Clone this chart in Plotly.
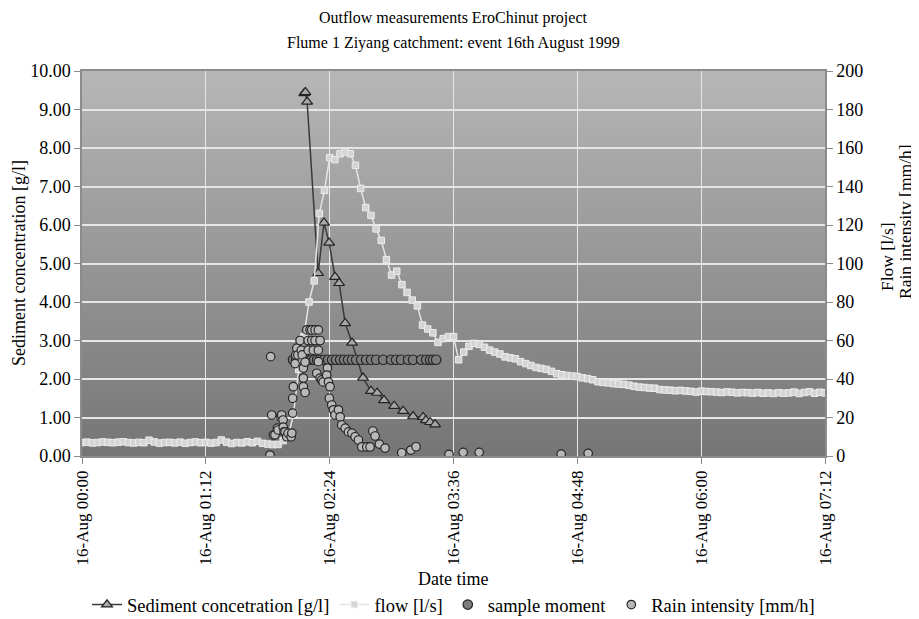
import plotly.graph_objects as go
import pandas as pd

BASE = pd.Timestamp("1999-08-16 00:00")

# ---------------- data (minutes after 00:00 on 16 Aug 1999) ----------------
flow_minutes = list(range(0, 433, 3))
flow_values = [
    7.0, 7.2, 6.8, 7.0, 7.3, 7.1, 6.9, 7.2, 7.4, 7.0, 6.8, 7.1, 6.9, 8.2, 7.3, 6.7,
    7.0, 7.1, 6.8, 7.2, 6.6, 7.0, 7.3, 6.9, 7.1, 6.7, 7.0, 8.3, 7.2, 6.5, 7.0, 6.8,
    7.4, 6.9, 7.6, 6.6, 6.2, 5.9, 6.0,
    8.0, 10.0, 22.0, 45.0, 62.0, 80.0, 91.0, 126.0, 138.0, 155.0, 154.0, 157.0,
    158.0, 157.0, 151.0, 139.0, 129.0, 125.0, 118.0, 112.0, 102.0, 94.0, 96.0,
    89.0, 85.0, 81.0, 78.0, 68.0, 66.0, 64.0, 59.0, 61.0, 62.0, 62.0, 50.0, 54.0,
    57.0, 58.5, 58.0, 56.5, 55.0, 54.0, 53.0, 51.5, 51.0, 50.5, 49.0, 48.0, 47.0,
    46.0, 45.5, 45.0, 44.0, 42.8, 42.2, 41.8, 41.5, 41.3, 40.6, 40.2, 39.6, 38.6,
    38.2, 38.0, 37.6, 37.4, 37.2, 36.8, 36.2, 35.8, 35.6, 35.3, 35.2, 34.5, 34.3,
    34.2, 33.9, 34.1, 33.8, 33.6, 33.2, 33.7, 33.5, 33.4, 33.2, 33.0, 33.3, 33.1,
    32.8, 33.0, 32.9, 32.7, 33.0, 32.6, 32.8, 32.5, 32.9, 32.6, 32.8, 33.2, 32.5,
    33.0, 33.4, 32.6, 33.1, 32.8, 32.5,
]

sed_minutes = [129.2, 129.9, 130.9, 137.3, 140.7, 143.7, 147.1, 149.5, 153.0, 157.0,
               163.4, 168.0, 171.6, 175.6, 181.5, 186.7, 192.5, 198.3, 200.0, 202.4, 205.3]
sed_values = [9.42, 9.45, 9.20, 4.75, 6.06, 5.54, 4.65, 4.49, 3.45, 2.94,
              2.03, 1.69, 1.64, 1.45, 1.30, 1.17, 1.03, 1.01, 0.93, 0.88, 0.82]

sample_minutes = [122.7, 124.5, 126.2, 128.0, 129.7, 131.4, 133.2, 134.9, 136.7, 138.4,
                  140.7, 143.1, 145.4, 147.7, 150.1, 152.4, 154.7, 157.0, 159.4, 162.3,
                  165.2, 168.1, 171.0, 175.1, 179.7, 182.6, 185.5, 189.6, 192.5, 197.2,
                  200.1, 202.4, 204.1, 205.9]
sample_values = [2.5] * len(sample_minutes)

rain_minutes = [109.3, 109.7, 110.3, 111.3, 112.2, 113.6, 114.0, 115.6, 116.1, 116.9,
                117.0, 117.5, 118.1, 119.0, 119.8, 121.6, 122.0, 122.5, 122.5, 122.9,
                123.9, 124.3, 124.9, 125.5, 126.8, 127.5, 128.0, 128.7, 128.7, 129.7,
                128.7, 129.7, 130.7, 131.5, 131.5, 132.6, 133.6, 133.6, 134.5, 135.5,
                135.5, 137.4, 138.4, 137.4, 137.4, 136.5, 138.4, 139.4, 140.2, 142.7,
                142.3, 143.3, 144.2, 143.8, 145.2, 146.2, 147.1, 149.1, 150.1, 151.0,
                153.0, 154.9, 156.9, 158.8, 160.7, 162.7, 165.6, 167.5, 169.1, 170.4,
                172.9, 176.2, 185.9, 191.2, 194.2, 213.4, 221.6, 230.9, 278.6, 294.3]
rain_values = [0.5, 51.6, 21.3, 10.9, 11.0, 14.5, 13.5, 20.4, 21.3, 18.7,
               15.0, 12.6, 12.5, 10.0, 11.9, 10.0, 11.9, 22.3, 30.0, 36.0,
               48.0, 52.5, 56.0, 52.5, 60.0, 55.0, 52.5, 40.5, 36.0, 33.0,
               45.7, 48.8, 65.5, 60.0, 55.0, 65.5, 65.5, 60.0, 55.0, 65.5,
               60.0, 65.5, 60.0, 55.0, 49.0, 43.0, 40.5, 39.5, 38.5, 45.7,
               42.0, 38.5, 36.0, 30.0, 26.5, 24.0, 21.3, 24.0, 20.3, 16.1,
               14.5, 12.5, 11.9, 10.0, 8.3, 4.7, 4.7, 4.7, 13.0, 10.4,
               6.2, 4.1, 1.7, 3.1, 4.8, 0.8, 1.9, 1.9, 1.0, 1.4]

tick_minutes = [0, 72, 144, 216, 288, 360, 432]
tick_labels = ["16-Aug 00:00", "16-Aug 01:12", "16-Aug 02:24", "16-Aug 03:36",
               "16-Aug 04:48", "16-Aug 06:00", "16-Aug 07:12"]


def to_time(mins):
    return [BASE + pd.Timedelta(minutes=m) for m in mins]


FONT = "Liberation Serif, Times New Roman, serif"

fig = go.Figure()

fig.add_trace(go.Scatter(
    x=to_time(flow_minutes), y=flow_values, name="flow [l/s]", yaxis="y2",
    mode="lines+markers", legendrank=2,
    line=dict(color="#e4e4e4", width=1.5),
    marker=dict(symbol="square", size=6.5, color="#d4d4d4",
                line=dict(color="#ececec", width=1)),
))
fig.add_trace(go.Scatter(
    x=to_time(sed_minutes), y=sed_values, name="Sediment concetration [g/l]",
    mode="lines+markers", legendrank=1,
    line=dict(color="#3a3a3a", width=1.5),
    marker=dict(symbol="triangle-up", size=9.5, color="#a8a8a8",
                line=dict(color="#222222", width=1.2)),
))
fig.add_trace(go.Scatter(
    x=to_time(sample_minutes), y=sample_values, name="sample moment",
    mode="markers", legendrank=3,
    marker=dict(symbol="circle", size=9.5, color="#7c7c7c",
                line=dict(color="#262626", width=1.2)),
))
fig.add_trace(go.Scatter(
    x=to_time(rain_minutes), y=rain_values, name="Rain intensity [mm/h]", yaxis="y2",
    mode="markers", legendrank=4,
    marker=dict(symbol="circle", size=8.5, color="#b8b8b8",
                line=dict(color="#262626", width=1.2)),
))

# vertical gradient background of the plot area (overlapping bands, no seams)
shapes = []
n = 60
top = (182, 182, 182)
bot = (118, 118, 118)
for i in range(n):
    f = i / (n - 1)
    c = tuple(int(round(top[k] + (bot[k] - top[k]) * f)) for k in range(3))
    shapes.append(dict(type="rect", xref="x domain", yref="y domain",
                       x0=0, x1=1, y0=max(0, 1 - (i + 1.6) / n), y1=1 - i / n,
                       fillcolor="rgb(%d,%d,%d)" % c, line=dict(width=0),
                       layer="below"))

# page has an 8px body margin: figure placed so the plot area sits at x 82-825, y 71-456
PW, PH = 743, 385


def px(x):
    return (x - 82) / PW


def py(y):
    return (456 - y) / PH


TXT = 18
common = dict(xref="paper", yref="paper", showarrow=False, xanchor="center", yanchor="middle")
annotations = [
    dict(text="Outflow measurements EroChinut project", x=px(453), y=py(18),
         font=dict(size=16), **common),
    dict(text="Flume 1 Ziyang catchment: event 16th August 1999", x=px(453), y=py(43),
         font=dict(size=16), **common),
    dict(text="Date time", x=px(453), y=py(579), font=dict(size=TXT), **common),
    dict(text="Sediment concentration [g/l]", x=px(19), y=py(263), textangle=-90,
         font=dict(size=TXT), **common),
    dict(text="Flow [l/s]", x=px(887), y=py(257), textangle=-90,
         font=dict(size=17.5), **common),
    dict(text="Rain intensity [mm/h]", x=px(905), y=py(222), textangle=-90,
         font=dict(size=17.5), **common),
]

fig.update_layout(
    width=911, height=611,
    margin=dict(l=74, r=94, t=63, b=163, autoexpand=False),
    paper_bgcolor="white", plot_bgcolor="#949494",
    font=dict(family=FONT, color="black", size=TXT),
    shapes=shapes, annotations=annotations,
    showlegend=True,
    legend=dict(orientation="h", x=0.5, xanchor="center", y=py(605),
                yanchor="middle", font=dict(size=18.5), bgcolor="rgba(0,0,0,0)",
                itemwidth=30, tracegroupgap=0),
    xaxis=dict(
        type="date", automargin=False,
        range=[BASE, BASE + pd.Timedelta(minutes=432)],
        tickvals=to_time(tick_minutes), ticktext=tick_labels, tickangle=-90,
        showgrid=True, gridcolor="#e6e6e6", gridwidth=1.2,
        showline=True, linecolor="#8c8c8c", linewidth=1.5, mirror=True,
        ticks="outside", ticklen=6, tickcolor="#8c8c8c",
        tickfont=dict(size=17), zeroline=False,
    ),
    yaxis=dict(
        range=[0, 10], dtick=1, tickformat=".2f", automargin=False,
        showgrid=True, gridcolor="#e6e6e6", gridwidth=1.5,
        showline=True, linecolor="#8c8c8c", linewidth=1.5,
        ticks="outside", ticklen=6, tickcolor="#8c8c8c",
        tickfont=dict(size=TXT), zeroline=False,
    ),
    yaxis2=dict(
        range=[0, 200], dtick=20, overlaying="y", side="right", automargin=False,
        showgrid=False, showline=True, linecolor="#8c8c8c", linewidth=1.5,
        ticks="outside", ticklen=6, tickcolor="#8c8c8c",
        tickfont=dict(size=TXT), zeroline=False,
    ),
)

fig.write_html("out.html")
